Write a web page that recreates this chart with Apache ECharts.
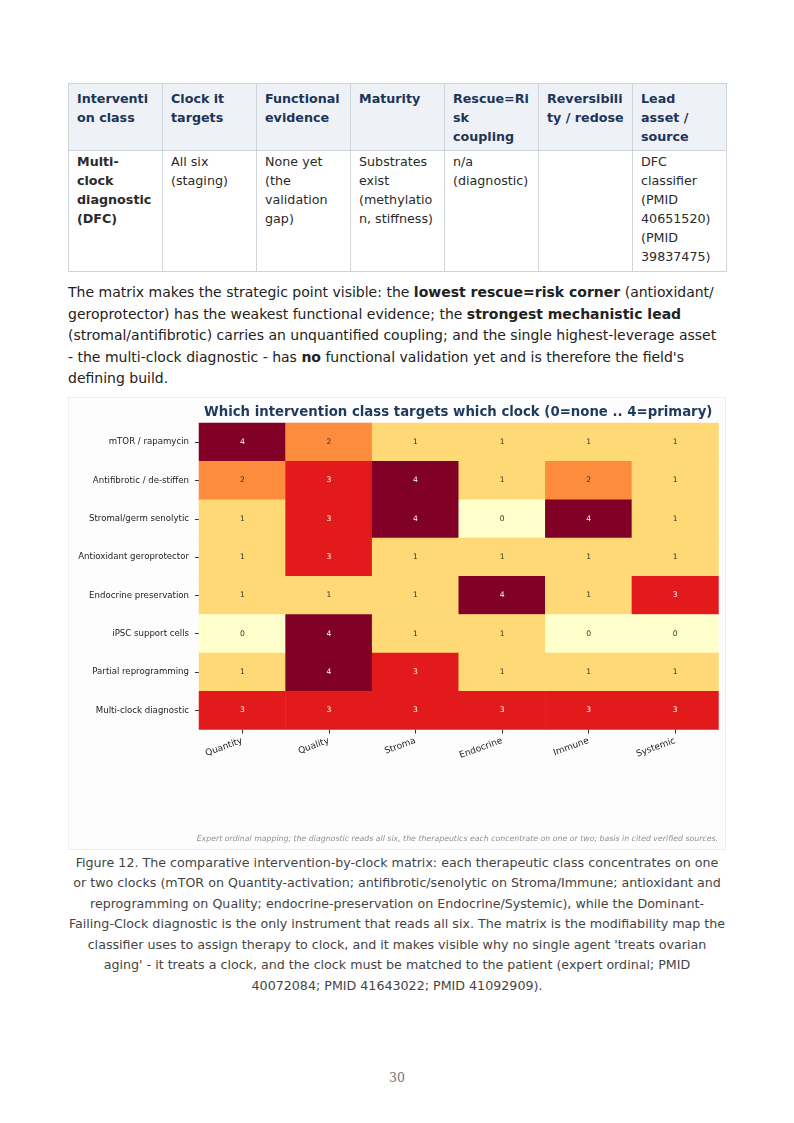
<!DOCTYPE html>
<html>
<head>
<meta charset="utf-8">
<script src="https://cdn.jsdelivr.net/npm/echarts@6/dist/echarts.min.js"></script>
<style>
  html, body { margin:0; padding:0; background:#ffffff; }
  body { width:794px; height:1123px; position:relative; overflow:hidden; font-family:"DejaVu Sans", sans-serif; color:#222; }
  table.t { position:absolute; left:68px; top:83px; width:658px; border-collapse:collapse; table-layout:fixed; font-size:12.7px; line-height:19px; }
  table.t th, table.t td { border:1px solid #cfd4da; padding:4.5px 8px; text-align:left; vertical-align:top; word-break:break-word; overflow-wrap:anywhere; }
  table.t th { background:#eef2f7; color:#1c3557; font-weight:bold; padding-top:4.5px; padding-bottom:4.5px; }
  table.t td { color:#2a2a2a; padding-top:0.5px; padding-bottom:5px; }
  p.para { position:absolute; left:68px; top:282px; width:657px; margin:0; font-size:14px; line-height:21.5px; color:#222; }
  #box { position:absolute; left:68px; top:397px; width:656px; height:451px; border:1px solid #eeeeee; background:#fdfdfd; }
  #chart { position:absolute; left:68px; top:397px; width:658px; height:453px; }
  p.cap { position:absolute; left:68.5px; top:853px; width:657px; margin:0; font-size:12.66px; line-height:20.45px; text-align:center; color:#444; }
  .pg { position:absolute; left:0; width:794px; top:1070px; text-align:center; font-family:"DejaVu Serif","Liberation Serif",serif; font-size:12.5px; color:#777; }
</style>
</head>
<body>
<table class="t">
  <colgroup><col style="width:94px"><col style="width:94px"><col style="width:94px"><col style="width:94px"><col style="width:94px"><col style="width:94px"><col style="width:94px"></colgroup>
  <tr><th>Intervention class</th><th>Clock it targets</th><th>Functional evidence</th><th>Maturity</th><th>Rescue=Risk coupling</th><th>Reversibility / redose</th><th>Lead asset / source</th></tr>
  <tr><td><b>Multi-clock diagnostic (DFC)</b></td><td>All six (staging)</td><td>None yet (the validation gap)</td><td>Substrates exist (methylation, stiffness)</td><td>n/a (diagnostic)</td><td></td><td>DFC classifier (PMID 40651520) (PMID 39837475)</td></tr>
</table>
<p class="para">The matrix makes the strategic point visible: the <b>lowest rescue=risk corner</b> (antioxidant/ geroprotector) has the weakest functional evidence; the <b>strongest mechanistic lead</b> (stromal/antifibrotic) carries an unquantified coupling; and the single highest-leverage asset - the multi-clock diagnostic - has <b>no</b> functional validation yet and is therefore the field's defining build.</p>
<div id="box"></div>
<div id="chart"></div>
<p class="cap">Figure 12. The comparative intervention-by-clock matrix: each therapeutic class concentrates on one or two clocks (mTOR on Quantity-activation; antifibrotic/senolytic on Stroma/Immune; antioxidant and reprogramming on Quality; endocrine-preservation on Endocrine/Systemic), while the Dominant-Failing-Clock diagnostic is the only instrument that reads all six. The matrix is the modifiability map the classifier uses to assign therapy to clock, and it makes visible why no single agent 'treats ovarian aging' - it treats a clock, and the clock must be matched to the patient (expert ordinal; PMID 40072084; PMID 41643022; PMID 41092909).</p>
<div class="pg">30</div>
<script>
const clocks = ["Quantity", "Quality", "Stroma", "Endocrine", "Immune", "Systemic"];
const interventions = ["mTOR / rapamycin", "Antifibrotic / de-stiffen", "Stromal/germ senolytic", "Antioxidant geroprotector", "Endocrine preservation", "iPSC support cells", "Partial reprogramming", "Multi-clock diagnostic"];
const mTOR = [4, 2, 1, 1, 1, 1];
const antifibrotic = [2, 3, 4, 1, 2, 1];
const senolytic = [1, 3, 4, 0, 4, 1];
const antioxidant = [1, 3, 1, 1, 1, 1];
const endocrine = [1, 1, 1, 4, 1, 3];
const ipsc = [0, 4, 1, 1, 0, 0];
const reprogramming = [1, 4, 3, 1, 1, 1];
const diagnostic = [3, 3, 3, 3, 3, 3];
const rows = [mTOR, antifibrotic, senolytic, antioxidant, endocrine, ipsc, reprogramming, diagnostic];
const titleText = "Which intervention class targets which clock (0=none .. 4=primary)";
const noteText = "Expert ordinal mapping; the diagnostic reads all six, the therapeutics each concentrate on one or two; basis in cited verified sources.";

const levelColors = ["#ffffcc", "#fed976", "#fd8d3c", "#e31a1c", "#800026"];
const data = [];
rows.forEach((r, yi) => r.forEach((v, xi) => {
  data.push({ value: [xi, yi, v], label: { color: v >= 3 ? "#ffffff" : "#333333" } });
}));

const chart = echarts.init(document.getElementById('chart'), null, { renderer: 'canvas' });
chart.setOption({
  animation: false,
  grid: { left: 131, top: 26, width: 519.5, height: 306.5 },
  xAxis: {
    type: 'category', data: clocks,
    axisLine: { show: false },
    axisTick: { show: true, alignWithLabel: true, length: 4, lineStyle: { color: '#333' } },
    axisLabel: { rotate: 20, fontSize: 9, color: '#222', margin: 11, fontFamily: 'DejaVu Sans' },
    splitLine: { show: false }
  },
  yAxis: {
    type: 'category', data: interventions, inverse: true,
    axisLine: { show: false },
    axisTick: { show: true, alignWithLabel: true, length: 4, lineStyle: { color: '#333' } },
    axisLabel: { fontSize: 8.6, color: '#222', margin: 10, fontFamily: 'DejaVu Sans' },
    splitLine: { show: false }
  },
  visualMap: {
    show: false, type: 'piecewise', dimension: 2,
    pieces: levelColors.map((c, i) => ({ value: i, color: c }))
  },
  series: [{
    type: 'heatmap', data: data,
    label: { show: true, fontSize: 7.6, fontFamily: 'DejaVu Sans' },
    itemStyle: { borderWidth: 0 },
    emphasis: { disabled: true }
  }],
  graphic: [
    { type: 'text', left: 136, top: 9, style: { text: titleText, font: 'bold 13.3px "DejaVu Sans"', fill: '#1f3a5f' } },
    { type: 'text', right: 8, top: 438, style: { text: noteText, font: 'italic 7.8px "DejaVu Sans"', fill: '#8a8f99' } }
  ]
});
</script>
</body>
</html>
